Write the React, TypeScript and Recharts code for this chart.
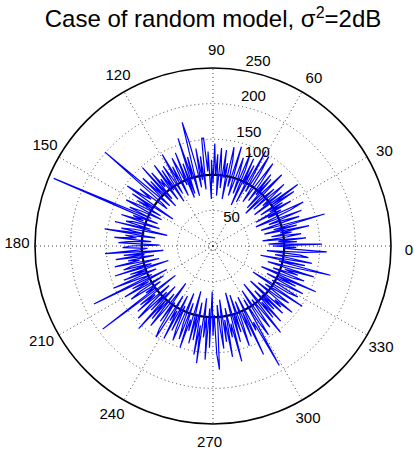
import { PolarAngleAxis, PolarGrid, PolarRadiusAxis, Radar, RadarChart } from "recharts"

// one value per degree, 0..359
const gain = [
  153, 78, 118, 92, 131, 70, 104, 125, 83, 112,
  96, 138, 74, 121, 88, 163, 95, 71, 128, 105,
  84, 134, 99, 66, 119, 141, 87, 108, 69, 126,
  93, 115, 80, 137, 101, 147, 73, 122, 90, 110,
  132, 77, 117, 97, 65, 139, 106, 72, 124, 94,
  129, 81, 113, 143, 98, 75, 120, 148, 89, 107,
  153, 70, 127, 96, 135, 63, 116, 140, 79, 109,
  131, 92, 74, 145, 103, 86, 124, 142, 67, 118,
  97, 136, 82, 112, 138, 71, 129, 100, 144, 88,
  121, 66, 133, 105, 152, 152, 80, 127, 94, 139,
  84, 118, 152, 179, 73, 130, 98, 159, 78, 123,
  73, 141, 93, 116, 136, 79, 125, 102, 147, 86,
  113, 132, 75, 128, 96, 140, 82, 119, 107, 134,
  88, 148, 77, 126, 101, 137, 83, 115, 201, 92,
  83, 130, 109, 121, 147, 68, 135, 99, 124, 86,
  118, 138, 81, 112, 129, 95, 243, 84, 120, 104,
  136, 79, 117, 127, 91, 142, 66, 113, 131, 98,
  154, 82, 124, 108, 139, 87, 119, 133, 75, 115,
  127, 92, 103, 152, 70, 126, 97, 138, 84, 121,
  105, 141, 78, 118, 130, 90, 144, 66, 123, 100,
  134, 86, 152, 111, 95, 186, 73, 128, 103, 143,
  81, 120, 137, 89, 115, 99, 194, 67, 131, 106,
  140, 83, 119, 146, 92, 125, 78, 156, 101, 133,
  87, 142, 110, 65, 129, 96, 138, 151, 82, 121,
  104, 147, 79, 132, 93, 127, 144, 72, 117, 139,
  85, 150, 108, 124, 66, 141, 98, 135, 81, 155,
  113, 166, 74, 129, 101, 160, 88, 143, 64, 126,
  97, 152, 174, 83, 118, 145, 76, 136, 105, 158,
  89, 131, 112, 167, 68, 140, 99, 127, 73, 149,
  116, 84, 138, 102, 168, 80, 133, 121, 192, 87,
  125, 147, 75, 119, 139, 93, 110, 154, 69, 131,
  104, 142, 86, 123, 97, 136, 72, 128, 115, 145,
  82, 117, 133, 91, 108, 151, 67, 124, 139, 96,
  113, 143, 85, 129, 101, 158, 74, 120, 137, 90,
  126, 106, 148, 80, 118, 170, 95, 132, 68, 141,
  110, 88, 135, 123, 76, 128, 160, 99, 117, 84,
]
const reference = 100
const angleTicks = [0, 30, 60, 90, 120, 150, 180, 210, 240, 270, 300, 330]
const rMax = 250
const rTicks = [50, 100, 150, 200]

const data = gain.map((g, i) => ({ angle: i, gain: g, ref: reference }))

const CX = 213
const CY = 246
const R = 178

// label nudges so the radius labels sit where matlab put them
const rLabelShift: Record<number, [number, number]> = {
  50: [10, 5],
  100: [27, -25],
  150: [10, -11],
  200: [6, -12],
  250: [2, -13],
}

const font = "'Liberation Sans', Arial, Helvetica, sans-serif"

function AngleTick(props: any) {
  const { x, y, payload } = props
  if (payload.value % 30 !== 0) return <g />
  return (
    <text x={x} y={y} dy="0.36em" textAnchor="middle" fontSize={15} fontFamily={font} fill="#000">
      {payload.value}
    </text>
  )
}

function RadiusTick(props: any) {
  const { x, y, payload } = props
  const shift = rLabelShift[payload.value]
  if (!shift) return <g />
  return (
    <text x={x + shift[0]} y={y + shift[1]} dy="0.36em" textAnchor="middle" fontSize={15} fontFamily={font} fill="#000">
      {payload.value}
    </text>
  )
}

export default function App() {
  return (
    <div style={{ position: "absolute", left: 0, top: 0, width: 414, height: 454, background: "#fff" }}>
      <div
        style={{
          position: "absolute",
          left: 0,
          top: 7,
          width: 426,
          textAlign: "center",
          fontFamily: font,
          fontSize: 24,
          lineHeight: "24px",
          color: "#000",
          zIndex: 2,
        }}
      >
        Case of random model, σ<sup style={{ fontSize: 16, verticalAlign: "9px", lineHeight: 0 }}>2</sup>=2dB
      </div>
      <RadarChart
        width={414}
        height={454}
        cx={CX}
        cy={CY}
        outerRadius={R}
        startAngle={0}
        endAngle={360}
        margin={{ top: 0, right: 0, bottom: 0, left: 0 }}
        data={data}
      >
        <PolarGrid
          gridType="circle"
          polarAngles={angleTicks}
          polarRadius={[4.5, ...rTicks.map((t) => (t / rMax) * R)]}
          stroke="#444"
          strokeDasharray="1 3"
        />
        <PolarAngleAxis
          dataKey="angle"
          axisLineType="circle"
          stroke="#000"
          strokeWidth={1.6}
          tickLine={false}
          tickSize={18}
          tick={AngleTick}
        />
        <PolarRadiusAxis
          angle={76}
          domain={[0, rMax]}
          tickCount={6}
          type="number"
          axisLine={false}
          tickLine={false}
          tick={RadiusTick}
        />
        <Radar dataKey="ref" stroke="#000" strokeWidth={2.2} fill="none" dot={false} isAnimationActive={false} />
        <Radar dataKey="gain" stroke="#0000ff" strokeWidth={1.2} fill="none" dot={false} isAnimationActive={false} />
      </RadarChart>
    </div>
  )
}
